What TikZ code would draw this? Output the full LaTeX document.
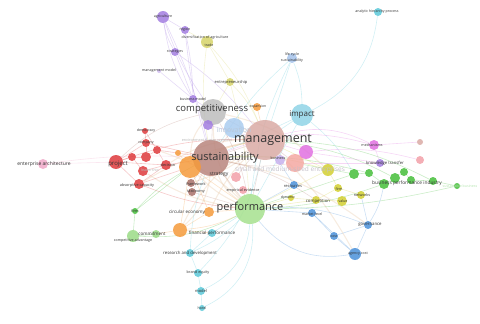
\documentclass[tikz,border=0pt]{standalone}
\usepackage{fontspec}
\setmainfont{Open Sans}
\usetikzlibrary{backgrounds}
\definecolor{cMgmt}{HTML}{D9AAA4}
\definecolor{cSust}{HTML}{B9857D}
\definecolor{cComp}{HTML}{BDBDBD}
\definecolor{cPerf}{HTML}{A6E08E}
\definecolor{cImp}{HTML}{8FD3E6}
\definecolor{cInn}{HTML}{AACCF0}
\definecolor{cSme}{HTML}{F4A8A2}
\definecolor{cOra}{HTML}{F59A3B}
\definecolor{cRed}{HTML}{DE3A3C}
\definecolor{cPur}{HTML}{A27CE0}
\definecolor{cOli}{HTML}{D6D468}
\definecolor{cYel}{HTML}{D2CF30}
\definecolor{cGrn}{HTML}{45BE3A}
\definecolor{cLgr}{HTML}{9ADB86}
\definecolor{cBlu}{HTML}{4A90D9}
\definecolor{cCya}{HTML}{5BC8D8}
\definecolor{cMag}{HTML}{E070E0}
\definecolor{cPnk}{HTML}{F2A0A8}
\definecolor{cEnt}{HTML}{F0A8C8}
\definecolor{cBrn}{HTML}{A87068}
\definecolor{cLav}{HTML}{A4C2EA}
\definecolor{cBei}{HTML}{E8C9A8}
\definecolor{cTxt}{HTML}{333333}
\begin{document}
\begin{tikzpicture}[x=1pt,y=-1pt,
  kw/.style 2 args={circle,inner sep=0pt,minimum size=#1,draw=none,fill=#2,fill opacity=0.85},
  lbl/.style={inner sep=0pt,text=cTxt},
  fs/.style={font=\fontsize{#1}{#1}\selectfont},
  faded/.style={text=black!28},
  ed/.style={draw=#1,line width=0.6pt,draw opacity=0.28},
  bed/.style={draw=cBei,line width=1.1pt,draw opacity=0.35}]
\useasboundingbox (0,0) rectangle (480,324);
% ---------- circles ----------
\node[kw={40pt}{cMgmt}] (mgmt) at (265,140) {};
\node[kw={36pt}{cSust}] (sust) at (211,158) {};
\node[kw={26pt}{cComp}] (comp) at (213,112) {};
\node[kw={30pt}{cPerf}] (perf) at (250,209) {};
\node[kw={22pt}{cImp}] (impact) at (302,115) {};
\node[kw={20pt}{cInn}] (innov) at (234,128) {};
\node[kw={18pt}{cSme}] (smes) at (295,163) {};
\node[kw={22pt}{cOra}] (orng) at (190,167) {};
\node[kw={14pt}{cMag}] (magen) at (306,152) {};
\node[kw={10pt}{cPur!60}] (biz) at (280,160) {};
\node[kw={10pt}{cPnk}] (stratn) at (236,177) {};
\node[kw={8pt}{cBrn}] (frame) at (191,183) {};
\node[kw={8pt}{cBrn}] (taxo) at (192,192) {};
\node[kw={8pt}{cPnk}] (emp) at (243,190) {};
\node[kw={14pt}{cRed}] (project) at (116,162) {};
\node[kw={6pt}{cRed}] (democ) at (145,131) {};
\node[kw={8pt}{cRed}] (company) at (146,143) {};
\node[kw={8pt}{cRed}] (ra) at (132,157) {};
\node[kw={10pt}{cRed}] (rb) at (146,157) {};
\node[kw={8pt}{cRed}] (rc) at (157,150) {};
\node[kw={10pt}{cRed}] (decision) at (166,165) {};
\node[kw={10pt}{cRed}] (leader) at (143,171) {};
\node[kw={10pt}{cRed}] (absorp) at (139,184) {};
\node[kw={6pt}{cOra}] (orsmall) at (178,153) {};
\node[kw={10pt}{cPur}] (purp) at (208,125) {};
\node[kw={8pt}{cOra}] (expans) at (257,107) {};
\node[kw={8pt}{cBlu}] (resources) at (294,185) {};
\node[kw={6pt}{cYel}] (dynamic) at (291,198) {};
\node[kw={8pt}{cYel}] (competition) at (316,200) {};
\node[kw={8pt}{cYel}] (firmy) at (338,188) {};
\node[kw={10pt}{cYel}] (value) at (342,201) {};
\node[kw={8pt}{cYel}] (networks) at (361,195) {};
\node[kw={12pt}{cYel}] (ylw) at (328,170) {};
\node[kw={8pt}{cBlu}] (market) at (312,213) {};
\node[kw={8pt}{cBlu}] (governance) at (368,225) {};
\node[kw={8pt}{cBlu}] (cost) at (334,236) {};
\node[kw={12pt}{cBlu}] (agency) at (355,254) {};
\node[kw={10pt}{cGrn}] (ga) at (354,174) {};
\node[kw={8pt}{cGrn}] (gb) at (369,173) {};
\node[kw={10pt}{cGrn}] (gc) at (384,184) {};
\node[kw={10pt}{cGrn}] (gd) at (395,178) {};
\node[kw={8pt}{cGrn}] (ge) at (404,172) {};
\node[kw={8pt}{cGrn}] (gf) at (411,180) {};
\node[kw={8pt}{cGrn}] (gg) at (433,181) {};
\node[kw={6pt}{cGrn}] (gh) at (457,186) {};
\node[kw={8pt}{cPur}] (knowledge) at (380,163) {};
\node[kw={10pt}{cMag}] (mech) at (374,145) {};
\node[kw={8pt}{cPnk}] (pinkr) at (420,160) {};
\node[kw={6pt}{cMgmt}] (brownr) at (420,142) {};
\node[kw={10pt}{cLav}] (lifecyc) at (292,58) {};
\node[kw={8pt}{cCya}] (ahp) at (378,12) {};
\node[kw={12pt}{cPur}] (agri) at (163,17) {};
\node[kw={8pt}{cPur}] (region) at (185,30) {};
\node[kw={12pt}{cOli}] (divers) at (207,42) {};
\node[kw={8pt}{cPur}] (strategies) at (175,52) {};
\node[kw={4pt}{cPur!50}] (mgmtmodel) at (159,71) {};
\node[kw={8pt}{cOli}] (entre) at (230,82) {};
\node[kw={8pt}{cPur}] (bizmodel) at (193,99) {};
\node[kw={10pt}{cEnt}] (enterprise) at (43,164) {};
\node[kw={6pt}{cGrn}] (firmg) at (135,211) {};
\node[kw={10pt}{cOra}] (circ) at (209,212) {};
\node[kw={8pt}{cLgr}] (commit) at (156,234) {};
\node[kw={12pt}{cLgr}] (compadv) at (133,236) {};
\node[kw={14pt}{cOra}] (orng2) at (180,230) {};
\node[kw={8pt}{cCya}] (finperf) at (212,233) {};
\node[kw={8pt}{cCya}] (rnd) at (190,253) {};
\node[kw={8pt}{cCya}] (brand) at (198,273) {};
\node[kw={8pt}{cCya}] (model) at (201,291) {};
\node[kw={6pt}{cCya}] (hotel) at (202,308) {};
% ---------- connectors ----------
\begin{scope}[on background layer]
% broad beige links of the core
\draw[bed] (orng) to[bend left=12] (mgmt);
\draw[bed] (orng) to[bend right=10] (perf);
\draw[bed] (orng2) to[bend left=15] (mgmt);
\draw[bed] (sust) to[bend right=15] (perf);
\draw[bed] (comp) to[bend right=20] (perf);
\draw[bed] (orng) to[bend left=20] (comp);
\draw[bed] (circ) to[bend left=10] (mgmt);
\draw[bed] (orng2) to[bend right=20] (sust);
\draw[bed] (decision) to[bend left=15] (mgmt);
\draw[bed] (rc) to[bend left=12] (perf);
\draw[bed] (absorp) to[bend left=10] (mgmt);
\draw[bed] (sust) to[bend left=12] (governance);
\draw[bed] (mgmt) to[bend left=8] (agency);
\draw[bed] (comp) to[bend left=15] (ylw);
\draw[bed] (frame) to[bend right=10] (mgmt);
\draw[bed] (leader) to[bend right=12] (perf);
% clusters
\draw[ed=cPur] (agri) -- (region);
\draw[ed=cPur] (agri) to[bend right=10] (strategies);
\draw[ed=cPur] (agri) to[bend right=12] (bizmodel);
\draw[ed=cPur] (region) to[bend left=5] (bizmodel);
\draw[ed=cPur] (strategies) -- (bizmodel);
\draw[ed=cPur] (agri) to[bend right=8] (comp);
\draw[ed=cPur] (region) to[bend right=5] (sust);
\draw[ed=cPur] (bizmodel) -- (comp);
\draw[ed=cPur] (mgmtmodel) -- (bizmodel);
\draw[ed=cPur] (strategies) to[bend left=8] (mgmt);
\draw[ed=cPur] (purp) -- (mgmt);
\draw[ed=cPur] (agri) to[bend left=6] (sust);
\draw[ed=cOli] (divers) -- (entre);
\draw[ed=cOli] (divers) to[bend left=10] (mgmt);
\draw[ed=cOli] (entre) -- (comp);
\draw[ed=cOli] (entre) to[bend left=10] (mgmt);
\draw[ed=cOli] (region) -- (divers);
\draw[ed=cOli] (divers) to[bend right=8] (sust);
\draw[ed=cOli] (entre) to[bend left=5] (perf);
\draw[ed=cCya] (impact) to[bend right=28] (ahp);
\draw[ed=cCya] (lifecyc) to[bend left=10] (impact);
\draw[ed=cCya] (lifecyc) to[bend right=10] (perf);
\draw[ed=cCya] (lifecyc) -- (mgmt);
\draw[ed=cCya] (lifecyc) to[bend right=8] (sust);
\draw[ed=cCya] (finperf) -- (rnd);
\draw[ed=cCya] (rnd) -- (brand);
\draw[ed=cCya] (brand) -- (model);
\draw[ed=cCya] (model) -- (hotel);
\draw[ed=cCya] (model) to[bend right=30] (perf);
\draw[ed=cCya] (hotel) to[bend right=35] (perf);
\draw[ed=cCya] (rnd) to[bend right=10] (perf);
\draw[ed=cCya] (brand) to[bend right=15] (mgmt);
\draw[ed=cCya] (rnd) to[bend left=8] (sust);
\draw[ed=cCya] (finperf) -- (perf);
\draw[ed=cCya] (impact) -- (perf);
\draw[ed=cCya] (impact) -- (mgmt);
\draw[ed=cCya] (impact) -- (sust);
\draw[ed=cCya] (impact) to[bend left=10] (ga);
\draw[ed=cRed] (project) -- (ra);
\draw[ed=cRed] (project) -- (company);
\draw[ed=cRed] (project) -- (decision);
\draw[ed=cRed] (project) -- (absorp);
\draw[ed=cRed] (democ) -- (company);
\draw[ed=cRed] (company) -- (rb);
\draw[ed=cRed] (ra) -- (rb);
\draw[ed=cRed] (rb) -- (rc);
\draw[ed=cRed] (rc) -- (decision);
\draw[ed=cRed] (leader) -- (decision);
\draw[ed=cRed] (absorp) -- (decision);
\draw[ed=cRed] (company) -- (sust);
\draw[ed=cRed] (decision) -- (sust);
\draw[ed=cRed] (rc) -- (sust);
\draw[ed=cRed] (project) to[bend left=10] (mgmt);
\draw[ed=cRed] (absorp) -- (orng);
\draw[ed=cRed] (absorp) to[bend right=8] (perf);
\draw[ed=cRed] (ra) -- (leader);
\draw[ed=cRed] (democ) -- (rc);
\draw[ed=cEnt] (enterprise) -- (project);
\draw[ed=cEnt] (enterprise) to[bend left=5] (sust);
\draw[ed=cOra] (orng) -- (circ);
\draw[ed=cOra] (circ) -- (orng2);
\draw[ed=cOra] (orng2) -- (finperf);
\draw[ed=cOra] (orng2) -- (commit);
\draw[ed=cOra] (orng) -- (orng2);
\draw[ed=cOra] (orsmall) -- (orng);
\draw[ed=cOra] (orng) -- (perf);
\draw[ed=cOra] (circ) -- (perf);
\draw[ed=cOra] (orng2) to[bend right=10] (perf);
\draw[ed=cOra] (expans) -- (mgmt);
\draw[ed=cOra] (orng) to[bend left=10] (mgmt);
\draw[ed=cGrn] (commit) -- (compadv);
\draw[ed=cGrn] (firmg) -- (compadv);
\draw[ed=cGrn] (firmg) -- (orng);
\draw[ed=cGrn] (firmg) to[bend left=10] (sust);
\draw[ed=cGrn] (compadv) to[bend right=15] (perf);
\draw[ed=cGrn] (ga) -- (gb);
\draw[ed=cGrn] (gb) -- (gc);
\draw[ed=cGrn] (gc) -- (gd);
\draw[ed=cGrn] (gd) -- (ge);
\draw[ed=cGrn] (ge) -- (gf);
\draw[ed=cGrn] (gf) -- (gg);
\draw[ed=cGrn] (gg) -- (gh);
\draw[ed=cGrn] (ga) -- (perf);
\draw[ed=cGrn] (gc) to[bend left=8] (perf);
\draw[ed=cGrn] (gd) to[bend right=10] (mgmt);
\draw[ed=cGrn] (ga) -- (smes);
\draw[ed=cGrn] (gg) to[bend right=12] (mgmt);
\draw[ed=cGrn] (gb) to[bend right=8] (sust);
\draw[ed=cGrn] (gh) to[bend left=6] (perf);
\draw[ed=cBlu] (perf) to[bend right=30] (agency);
\draw[ed=cBlu] (market) -- (cost);
\draw[ed=cBlu] (cost) -- (agency);
\draw[ed=cBlu] (governance) -- (agency);
\draw[ed=cBlu] (governance) -- (cost);
\draw[ed=cBlu] (market) -- (agency);
\draw[ed=cBlu] (governance) -- (networks);
\draw[ed=cBlu] (resources) -- (perf);
\draw[ed=cBlu] (market) -- (perf);
\draw[ed=cBlu] (governance) to[bend right=12] (perf);
\draw[ed=cBlu] (governance) to[bend right=10] (gc);
\draw[ed=cBlu] (resources) -- (mgmt);
\draw[ed=cMag] (mgmt) to[bend left=20] (mech);
\draw[ed=cMag] (mgmt) -- (magen);
\draw[ed=cMag] (magen) -- (knowledge);
\draw[ed=cMag] (mech) -- (knowledge);
\draw[ed=cMag] (smes) -- (knowledge);
\draw[ed=cMag] (magen) to[bend left=10] (pinkr);
\draw[ed=cMag] (mech) -- (brownr);
\draw[ed=cMag] (sust) to[bend left=18] (mech);
\draw[ed=cSust] (comp) -- (mgmt);
\draw[ed=cSust] (sust) -- (mgmt);
\draw[ed=cSust] (sust) -- (perf);
\draw[ed=cSust] (mgmt) -- (perf);
\draw[ed=cSust] (comp) -- (sust);
\draw[ed=cSust] (comp) to[bend left=10] (perf);
\draw[ed=cSust] (mgmt) -- (smes);
\draw[ed=cSust] (sust) to[bend right=10] (smes);
\draw[ed=cSust] (innov) -- (mgmt);
\draw[ed=cSust] (innov) -- (sust);
\draw[ed=cSust] (stratn) -- (mgmt);
\draw[ed=cSust] (emp) -- (perf);
\draw[ed=cSust] (frame) -- (sust);
\draw[ed=cSust] (taxo) -- (sust);
\draw[ed=cSust] (taxo) -- (perf);
\draw[ed=cSust] (comp) to[bend right=15] (project);
\draw[ed=cSust] (sust) to[bend left=10] (competition);
\draw[ed=cSust] (biz) -- (mgmt);
\draw[ed=cYel] (competition) -- (firmy);
\draw[ed=cYel] (firmy) -- (networks);
\draw[ed=cYel] (value) -- (competition);
\draw[ed=cYel] (dynamic) -- (competition);
\draw[ed=cYel] (ylw) -- (mgmt);
\draw[ed=cYel] (ylw) -- (perf);
\draw[ed=cYel] (competition) -- (perf);
\draw[ed=cYel] (dynamic) -- (perf);
\draw[ed=cYel] (ylw) -- (firmy);
\draw[ed=cYel] (ylw) to[bend right=10] (sust);
\end{scope}
% ---------- labels ----------
\node[lbl,fs=12.5] at (273,140) {management};
\node[lbl,fs=11] at (225,158) {sustainability};
\node[lbl,fs=9.5] at (212,109) {competitiveness};
\node[lbl,fs=11] at (250,208) {performance};
\node[lbl,fs=8] at (302,115) {impact};
\node[lbl,fs=7,text=cInn!80!black!60] at (234,130) {innovation};
\node[lbl,fs=6.5,text=cPur!35!black!30] at (290,170) {small and medium-sized enterprises};
\node[lbl,fs=3.5] at (258,107) {expansion};
\node[lbl,fs=5] at (44,164) {enterprise architecture};
\node[lbl,fs=6] at (118,164) {project};
\node[lbl,fs=3.6] at (146,131) {democracy};
\node[lbl,fs=3.6] at (146,143) {company};
\node[lbl,fs=3.8] at (168,165) {decision};
\node[lbl,fs=3.6,faded] at (150,171) {leadership};
\node[lbl,fs=3.8] at (137,186) {absorptive capacity};
\node[lbl,fs=3.8,faded] at (207,141) {environmental management};
\node[lbl,fs=5] at (219,174) {strategy};
\node[lbl,fs=3.8] at (196,184) {framework};
\node[lbl,fs=3.8] at (196,192) {taxonomy};
\node[lbl,fs=3.8] at (243,191) {empirical evidence};
\node[lbl,fs=3.6] at (278,158) {business};
\node[lbl,fs=4] at (293,186) {resources};
\node[lbl,fs=3.6] at (288,198) {dynamic};
\node[lbl,fs=4.3] at (318,201) {competition};
\node[lbl,fs=3.6] at (339,189) {firm};
\node[lbl,fs=3.6] at (343,201) {value};
\node[lbl,fs=3.8] at (362,195) {networks};
\node[lbl,fs=3.6] at (312,214) {market level};
\node[lbl,fs=4.3] at (370,225) {governance};
\node[lbl,fs=3.6] at (334,236) {cost};
\node[lbl,fs=3.6] at (358,254) {agency cost};
\node[lbl,fs=4.2] at (385,163) {knowledge transfer};
\node[lbl,fs=3.6] at (372,145) {mechanisms};
\node[lbl,fs=4.8] at (407,183) {business performance industry};
\node[lbl,fs=3.6,text=cGrn!40] at (460,186) {sustainable business};
\node[lbl,fs=3.6] at (292,55) {life cycle};
\node[lbl,fs=3.6] at (292,61) {sustainability};
\node[lbl,fs=3.6] at (377,12) {analytic hierarchy process};
\node[lbl,fs=3.6] at (163,17) {agriculture};
\node[lbl,fs=3.6] at (185,30) {region};
\node[lbl,fs=3.6] at (205,38) {diversification of agriculture};
\node[lbl,fs=3.6] at (209,45) {trade};
\node[lbl,fs=3.6] at (175,52) {strategies};
\node[lbl,fs=3.6] at (159,71) {management model};
\node[lbl,fs=4] at (231,82) {entrepreneurship};
\node[lbl,fs=3.6] at (193,99) {business model};
\node[lbl,fs=3.8] at (135,211) {firm};
\node[lbl,fs=4.5] at (187,212) {circular economy};
\node[lbl,fs=4.5] at (152,234) {commitment};
\node[lbl,fs=3.6] at (133,241) {competitive advantage};
\node[lbl,fs=4.5] at (212,233) {financial performance};
\node[lbl,fs=4.3] at (190,253) {research and development};
\node[lbl,fs=3.8] at (198,273) {brand equity};
\node[lbl,fs=4] at (201,291) {model};
\node[lbl,fs=3.6] at (202,308) {hotel};
\end{tikzpicture}
\end{document}
